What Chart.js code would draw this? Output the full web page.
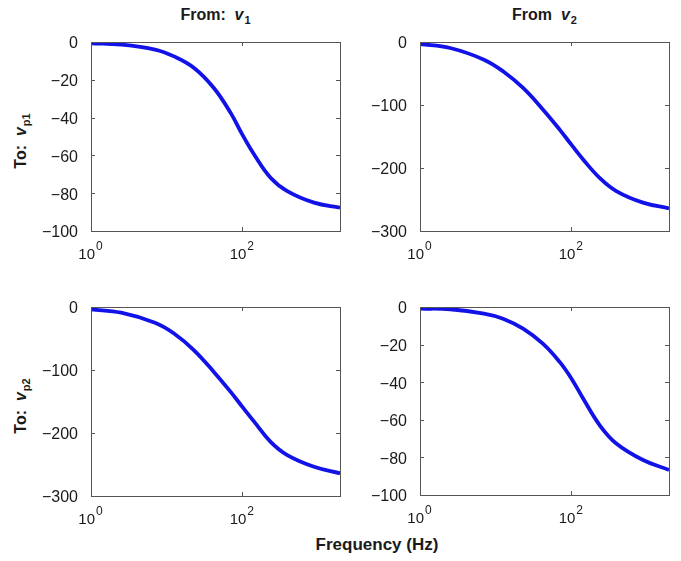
<!DOCTYPE html>
<html>
<head>
<meta charset="utf-8">
<title>Bode phase</title>
<script src="https://cdn.jsdelivr.net/npm/chart.js@4.4.1/dist/chart.umd.min.js"></script>
<style>
body{margin:0;background:#fff;width:681px;height:561px;position:relative;overflow:hidden;
  font-family:"Liberation Sans",Arial,Helvetica,sans-serif;color:#1a1a1a}
canvas{position:absolute}
.lbl{position:absolute;font-weight:bold;white-space:nowrap;line-height:16px;font-size:16px}
.lbl i{font-weight:bold}
.lbl sub{font-size:11px;position:relative;top:4px;vertical-align:baseline;margin-left:1px}
.col{text-align:center}
.row{transform:translate(-50%,-50%) rotate(-90deg);transform-origin:50% 50%}
#xtitle{font-size:17px;line-height:17px}
</style>
</head>
<body>
<div class="lbl col" style="left:91px;top:7px;width:249px">From:&nbsp; <i>v</i><sub>1</sub></div>
<div class="lbl col" style="left:420px;top:7px;width:249px">From&nbsp; <i>v</i><sub>2</sub></div>
<div class="lbl row" style="left:21px;top:141px">To:&nbsp; <i>v</i><sub>p1</sub></div>
<div class="lbl row" style="left:21px;top:406px">To:&nbsp; <i>v</i><sub>p2</sub></div>
<div class="lbl col" id="xtitle" style="left:227px;top:536px;width:300px">Frequency (Hz)</div>

<canvas id="c11"></canvas>
<canvas id="c12"></canvas>
<canvas id="c21"></canvas>
<canvas id="c22"></canvas>

<script>
// frequency samples (Hz) shared by all four responses
const freqs = [1, 2.5, 7, 12.5, 23, 42, 70, 100, 143, 236, 392, 885, 1950];

// phase (deg) for each input/output pair
const phaseV1toP1 = [-0.7, -1.4, -4, -7.6, -13.7, -24.3, -37.5, -49, -59.5, -71.8, -78.9, -85, -87.7];
const phaseV2toP1 = [-3.2, -9.5, -28, -46.5, -73, -107, -139, -163, -186.5, -215.6, -236.6, -255, -264];
const phaseV1toP2 = [-3.7, -9, -25, -42, -68.7, -103, -134.7, -158.5, -182, -214, -235, -253.6, -264];
const phaseV2toP2 = [-0.9, -1.2, -3.5, -6.2, -11.5, -19.5, -29.2, -38, -48.7, -62.8, -72.6, -81.4, -86.7];

// axis ticks
const xTickVals = [1, 100];
const yTicksSmall = [-100, -80, -60, -40, -20, 0];
const yTicksLarge = [-300, -200, -100, 0];

const FONT = '"Liberation Sans", Arial, Helvetica, sans-serif';
const INK = '#1a1a1a';
const BOX = '#555';

// box around the axes with inward ticks on all four sides, plus 10^n labels
const matlabAxes = {
  id: 'matlabAxes',
  afterDraw(chart){
    const {ctx, chartArea: a, scales} = chart;
    const xs = scales.x, ys = scales.y;
    ctx.save();
    ctx.strokeStyle = BOX;
    ctx.lineWidth = 1;
    ctx.strokeRect(a.left + 0.5, a.top + 0.5, a.right - a.left, a.bottom - a.top);
    ctx.beginPath();
    for (const t of ys.ticks){
      const y = Math.round(ys.getPixelForValue(t.value)) + 0.5;
      ctx.moveTo(a.left, y); ctx.lineTo(a.left + 4, y);
      ctx.moveTo(a.right, y); ctx.lineTo(a.right - 4, y);
    }
    for (const v of xTickVals){
      const x = Math.round(xs.getPixelForValue(v)) + 0.5;
      ctx.moveTo(x, a.bottom); ctx.lineTo(x, a.bottom - 4);
      ctx.moveTo(x, a.top); ctx.lineTo(x, a.top + 4);
    }
    ctx.stroke();

    ctx.fillStyle = INK;
    ctx.textBaseline = 'alphabetic';
    for (const v of xTickVals){
      const x = xs.getPixelForValue(v);
      ctx.font = '15px ' + FONT;
      ctx.textAlign = 'right';
      ctx.fillText('10', x + 4, a.bottom + 28);
      ctx.font = '12px ' + FONT;
      ctx.textAlign = 'left';
      ctx.fillText(String(Math.round(Math.log10(v))), x + 5, a.bottom + 19);
    }
    ctx.restore();
  }
};

const PAD_L = 60, PAD_T = 15, PAD_R = 12, PAD_B = 40;

function makePanel(id, left, top, w, h, series, yTicks){
  const cv = document.getElementById(id);
  cv.width = w + PAD_L + PAD_R;
  cv.height = h + PAD_T + PAD_B;
  cv.style.left = (left - PAD_L) + 'px';
  cv.style.top = (top - PAD_T) + 'px';

  return new Chart(cv, {
    type: 'line',
    data: {
      datasets: [{
        data: freqs.map((f, i) => ({x: f, y: series[i]})),
        borderColor: '#1212e8',
        borderWidth: 3.8,
        pointRadius: 0,
        fill: false,
        tension: 0.4
      }]
    },
    options: {
      responsive: false,
      animation: false,
      layout: {padding: {top: PAD_T, right: PAD_R, left: 0, bottom: 0}},
      plugins: {legend: {display: false}, tooltip: {enabled: false}},
      scales: {
        x: {
          type: 'logarithmic',
          min: 1,
          max: freqs[freqs.length - 1],
          grid: {display: false},
          border: {display: false},
          ticks: {display: false},
          afterBuildTicks: s => { s.ticks = xTickVals.map(v => ({value: v})); },
          afterFit: s => { s.height = PAD_B; }
        },
        y: {
          min: yTicks[0],
          max: yTicks[yTicks.length - 1],
          grid: {display: false},
          border: {display: false},
          afterBuildTicks: s => { s.ticks = yTicks.map(v => ({value: v})); },
          afterFit: s => { s.width = PAD_L; },
          ticks: {
            color: INK,
            padding: 5,
            labelOffset: 2,
            font: {family: FONT, size: 16},
            callback: v => v < 0 ? '\u2212' + Math.abs(v) : String(v)
          }
        }
      }
    },
    plugins: [matlabAxes]
  });
}

makePanel('c11', 91, 42, 249, 189, phaseV1toP1, yTicksSmall);
makePanel('c12', 420, 42, 249, 189, phaseV2toP1, yTicksLarge);
makePanel('c21', 91, 307, 249, 189, phaseV1toP2, yTicksLarge);
makePanel('c22', 420, 307, 249, 188, phaseV2toP2, yTicksSmall);
</script>
</body>
</html>
